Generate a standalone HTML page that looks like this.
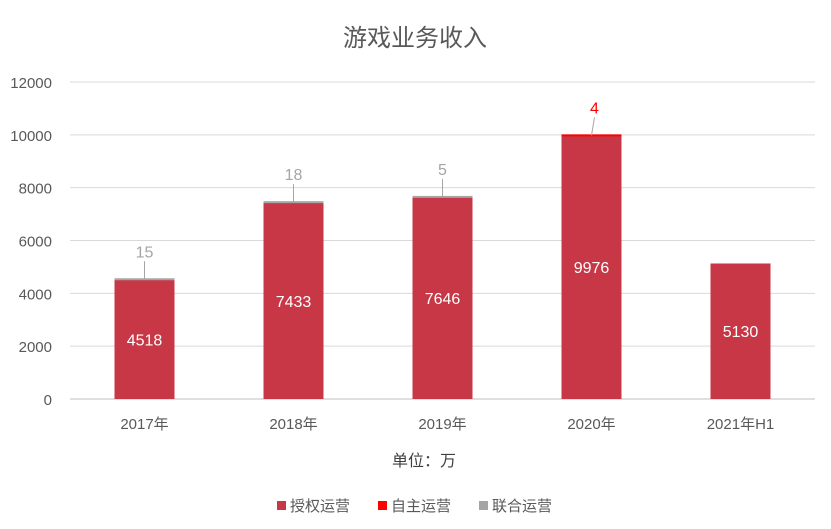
<!DOCTYPE html>
<html><head><meta charset="utf-8">
<style>
body{margin:0;background:#fff;}
svg{display:block;font-family:"Liberation Sans","Noto Sans CJK SC",sans-serif;}
</style></head>
<body>
<svg id="chart" width="831" height="529" viewBox="0 0 831 529">
<text x="415" y="46" text-anchor="middle" font-size="24" fill="#595959">游戏业务收入</text>
<g id="grid"></g><g id="bars"></g><g id="labels"></g>
<text x="424" y="466" text-anchor="middle" font-size="16" fill="#404040">单位：万</text>
<g font-size="15" fill="#595959">
<g><rect x="277" y="501" width="9" height="9" fill="#C83746"/><text x="290" y="511">授权运营</text></g>
<g><rect x="378" y="501" width="9" height="9" fill="#FF0000"/><text x="391" y="511">自主运营</text></g>
<g><rect x="479" y="501" width="9" height="9" fill="#A5A5A5"/><text x="492" y="511">联合运营</text></g>
</g>
</svg>
<script>
const categories=["2017年","2018年","2019年","2020年","2021年H1"];
const licensed=[4518,7433,7646,9976,5130];
const selfOp=[0,0,0,4,0];
const joint=[15,18,5,0,0];
const yTicks=[0,2000,4000,6000,8000,10000,12000];
const NS="http://www.w3.org/2000/svg";
const x0=70,x1=815,y0=399,y1=82,yMax=12000;
const band=(x1-x0)/categories.length, bw=60;
const y=v=>y0-(v/yMax)*(y0-y1);
const cx=i=>x0+band*(i+0.5);
function mk(t,a,p,txt){const e=document.createElementNS(NS,t);for(const k in a)e.setAttribute(k,a[k]);if(txt!==undefined)e.textContent=txt;p.appendChild(e);return e;}
const grid=document.getElementById('grid'),bars=document.getElementById('bars'),labels=document.getElementById('labels');
yTicks.forEach(t=>{
 const l=mk('line',{x1:x0,x2:x1,y1:y(t),y2:y(t),stroke:t===0?'#BFBFBF':'#D9D9D9','stroke-width':1},grid);
 
 
 const tx=mk('text',{x:52,y:y(t)+6,'text-anchor':'end','font-size':15,fill:'#595959'},grid,String(t));
 
 
});
categories.forEach((c,i)=>{
 const xl=cx(i)-bw/2;
 const r=mk('rect',{x:xl,y:y(licensed[i]),width:bw,height:y(0)-y(licensed[i]),fill:'#C83746'},bars);
 
 
 let base=licensed[i];
 if(selfOp[i]>0){const s=mk('rect',{x:xl,y:y(base+selfOp[i])-1,width:bw,height:Math.max(2,y(base)-y(base+selfOp[i])),fill:'#FF0000'},bars);
  
  
  base+=selfOp[i];}
 if(joint[i]>0){const j=mk('rect',{x:xl,y:y(base+joint[i])-1,width:bw,height:Math.max(2,y(base)-y(base+joint[i])),fill:'#A5A5A5'},bars);
  
  
  base+=joint[i];}
 const vl=mk('text',{x:cx(i),y:(y(licensed[i])+y(0))/2+6,'text-anchor':'middle','font-size':16,fill:'#fff'},labels,String(licensed[i]));
 
 
 const small=selfOp[i]>0?selfOp[i]:joint[i];
 if(small>0){
  const col=selfOp[i]>0?'#FF0000':'#A5A5A5';
  const top=y(base);
  const ln=mk('line',{x1:cx(i)+(selfOp[i]>0?0:0),x2:cx(i)+(selfOp[i]>0?3:0),y1:top,y2:top-18,stroke:'#A5A5A5','stroke-width':1},labels);
  
  
  const st=mk('text',{x:cx(i)+(selfOp[i]>0?3:0),y:top-22,'text-anchor':'middle','font-size':16,fill:col},labels,String(small));
  
  
 }
 const xt=mk('text',{x:cx(i),y:429,'text-anchor':'middle','font-size':15,fill:'#595959'},labels,c);
 
 
});
</script>
</body></html>
